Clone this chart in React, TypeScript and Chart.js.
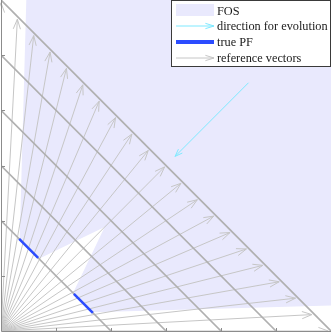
import React, { useEffect, useRef } from "react";
import { Chart, registerables } from "chart.js";

Chart.register(...registerables);

// ---- data ----
const AXIS_MIN = 0;
const AXIS_MAX = 1.2;
const TICK_VALUES = [0.2, 0.4, 0.6, 0.8, 1.0];
const CONTOUR_LEVELS = [0.4, 0.6, 0.8, 1.0, 1.2];
const VECTOR_WEIGHTS = [0, 0.05, 0.1, 0.15, 0.2, 0.25, 0.3, 0.35, 0.4, 0.45, 0.5, 0.55, 0.6, 0.65, 0.7, 0.75, 0.8, 0.85, 0.9, 0.95, 1];
const VECTOR_LENGTH = 1.19;
const FOS_X = [0.092, 1.2, 1.2, 0.332, 0.262, 0.377, 0.138, 0.068, 0.092];
const FOS_Y = [1.2, 1.2, 0.092, 0.068, 0.138, 0.377, 0.262, 0.332, 1.2];
const PF_UPPER_X = [0.066, 0.135];
const PF_UPPER_Y = [0.334, 0.265];
const PF_LOWER_X = [0.265, 0.334];
const PF_LOWER_Y = [0.135, 0.066];
const EVOLUTION_X = [0.9, 0.633];
const EVOLUTION_Y = [0.9, 0.633];
const LEGEND_LABELS = ["FOS", "direction for evolution", "true PF", "reference vectors"];

// ---- styles ----
const FOS_COLOR = "rgb(233,233,253)";
const VECTOR_COLOR = "#c6c6c6";
const CONTOUR_COLOR = "#b0b0b0";
const PF_COLOR = "#2b4cff";
const EVO_COLOR = "#7fe9ff";
const AXIS_COLOR = "#8c8c8c";
const FONT = "12.3px 'Liberation Serif', 'DejaVu Serif', serif";

function arrowHead(ctx: CanvasRenderingContext2D, fx: number, fy: number, tx: number, ty: number, len: number, ha: number) {
  const a = Math.atan2(ty - fy, tx - fx);
  ctx.beginPath();
  ctx.moveTo(tx - len * Math.cos(a - ha), ty - len * Math.sin(a - ha));
  ctx.lineTo(tx, ty);
  ctx.lineTo(tx - len * Math.cos(a + ha), ty - len * Math.sin(a + ha));
  ctx.stroke();
}

const overlayPlugin = {
  id: "overlay",
  afterDatasetsDraw(chart: any) {
    const ctx: CanvasRenderingContext2D = chart.ctx;
    const xs = chart.scales.x;
    const ys = chart.scales.y;
    const ox = xs.getPixelForValue(0);
    const oy = ys.getPixelForValue(0);
    ctx.save();
    // reference vector arrowheads
    ctx.strokeStyle = VECTOR_COLOR;
    ctx.lineWidth = 1;
    VECTOR_WEIGHTS.forEach((w) => {
      const tx = xs.getPixelForValue(w * VECTOR_LENGTH);
      const ty = ys.getPixelForValue((1 - w) * VECTOR_LENGTH);
      arrowHead(ctx, ox, oy, tx, ty, 10.5, 0.35);
    });
    // evolution arrowhead
    ctx.strokeStyle = EVO_COLOR;
    arrowHead(
      ctx,
      xs.getPixelForValue(EVOLUTION_X[0]),
      ys.getPixelForValue(EVOLUTION_Y[0]),
      xs.getPixelForValue(EVOLUTION_X[1]),
      ys.getPixelForValue(EVOLUTION_Y[1]),
      8,
      0.35
    );
    // axes
    const left = chart.chartArea.left;
    const bottom = chart.chartArea.bottom;
    ctx.strokeStyle = AXIS_COLOR;
    ctx.lineWidth = 1;
    ctx.beginPath();
    ctx.moveTo(left + 0.5, chart.chartArea.top);
    ctx.lineTo(left + 0.5, bottom + 0.5);
    ctx.lineTo(chart.chartArea.right, bottom + 0.5);
    TICK_VALUES.forEach((v) => {
      const py = Math.round(ys.getPixelForValue(v)) + 0.5;
      ctx.moveTo(left, py);
      ctx.lineTo(left + 4, py);
      const px = Math.round(xs.getPixelForValue(v)) + 0.5;
      ctx.moveTo(px, bottom + 1);
      ctx.lineTo(px, bottom - 3);
    });
    ctx.stroke();

    // legend
    const bx = 171.5, by = 0.5, bw = 159, bh = 66;
    ctx.fillStyle = "#ffffff";
    ctx.fillRect(bx, by, bw, bh);
    ctx.strokeStyle = "#3a3a3a";
    ctx.lineWidth = 1;
    ctx.strokeRect(bx, by, bw, bh);
    const rows = [10.5, 26, 42, 58];
    const sx0 = 176, sx1 = 214;
    ctx.fillStyle = FOS_COLOR;
    ctx.fillRect(sx0, 4, sx1 - sx0, 12);
    ctx.strokeStyle = EVO_COLOR;
    ctx.lineWidth = 1;
    ctx.beginPath();
    ctx.moveTo(sx0, rows[1]);
    ctx.lineTo(sx1, rows[1]);
    ctx.stroke();
    arrowHead(ctx, sx0, rows[1], sx1, rows[1], 9, 0.3);
    ctx.strokeStyle = PF_COLOR;
    ctx.lineWidth = 4;
    ctx.beginPath();
    ctx.moveTo(sx0, rows[2]);
    ctx.lineTo(sx1, rows[2]);
    ctx.stroke();
    ctx.strokeStyle = VECTOR_COLOR;
    ctx.lineWidth = 1;
    ctx.beginPath();
    ctx.moveTo(sx0, rows[3]);
    ctx.lineTo(sx1, rows[3]);
    ctx.stroke();
    arrowHead(ctx, sx0, rows[3], sx1, rows[3], 9, 0.3);
    ctx.fillStyle = "#1a1a1a";
    ctx.font = FONT;
    ctx.textBaseline = "middle";
    ctx.textAlign = "left";
    LEGEND_LABELS.forEach((t, i) => ctx.fillText(t, 217, rows[i] + 1));
    ctx.restore();
  },
};

export default function App() {
  const ref = useRef<HTMLCanvasElement>(null);
  useEffect(() => {
    document.body.style.margin = "0";
    const canvas = ref.current!;
    const line = (data: { x: number; y: number }[], color: string, width: number, order: number) => ({
      data,
      showLine: true,
      borderColor: color,
      borderWidth: width,
      pointRadius: 0,
      fill: false,
      order,
      borderCapStyle: "butt",
    });
    const datasets: any[] = [];
    datasets.push({
      data: FOS_X.map((x, i) => ({ x, y: FOS_Y[i] })),
      showLine: true,
      borderColor: "rgba(0,0,0,0)",
      borderWidth: 0,
      backgroundColor: FOS_COLOR,
      pointRadius: 0,
      fill: "shape",
      order: 20,
    });
    VECTOR_WEIGHTS.forEach((w) => {
      datasets.push(
        line(
          [
            { x: 0, y: 0 },
            { x: w * VECTOR_LENGTH, y: (1 - w) * VECTOR_LENGTH },
          ],
          VECTOR_COLOR,
          1,
          10
        )
      );
    });
    CONTOUR_LEVELS.forEach((c) => {
      datasets.push(
        line(
          [
            { x: 0, y: c },
            { x: c, y: 0 },
          ],
          CONTOUR_COLOR,
          1.7,
          8
        )
      );
    });
    datasets.push(line(PF_UPPER_X.map((x, i) => ({ x, y: PF_UPPER_Y[i] })), PF_COLOR, 2.5, 3));
    datasets.push(line(PF_LOWER_X.map((x, i) => ({ x, y: PF_LOWER_Y[i] })), PF_COLOR, 2.5, 3));
    datasets.push(line(EVOLUTION_X.map((x, i) => ({ x, y: EVOLUTION_Y[i] })), EVO_COLOR, 1, 2));

    const chart = new Chart(canvas, {
      type: "scatter",
      data: { datasets },
      options: {
        animation: false,
        responsive: false,
        events: [],
        layout: { padding: { left: 1, right: 1, top: 0, bottom: 1 } },
        plugins: { legend: { display: false }, tooltip: { enabled: false } },
        scales: {
          x: { type: "linear", min: AXIS_MIN, max: AXIS_MAX, display: false },
          y: { type: "linear", min: AXIS_MIN, max: AXIS_MAX, display: false },
        },
      },
      plugins: [overlayPlugin],
    });
    return () => chart.destroy();
  }, []);
  return <canvas ref={ref} width={332} height={332} style={{ display: "block", width: 332, height: 332 }} />;
}
